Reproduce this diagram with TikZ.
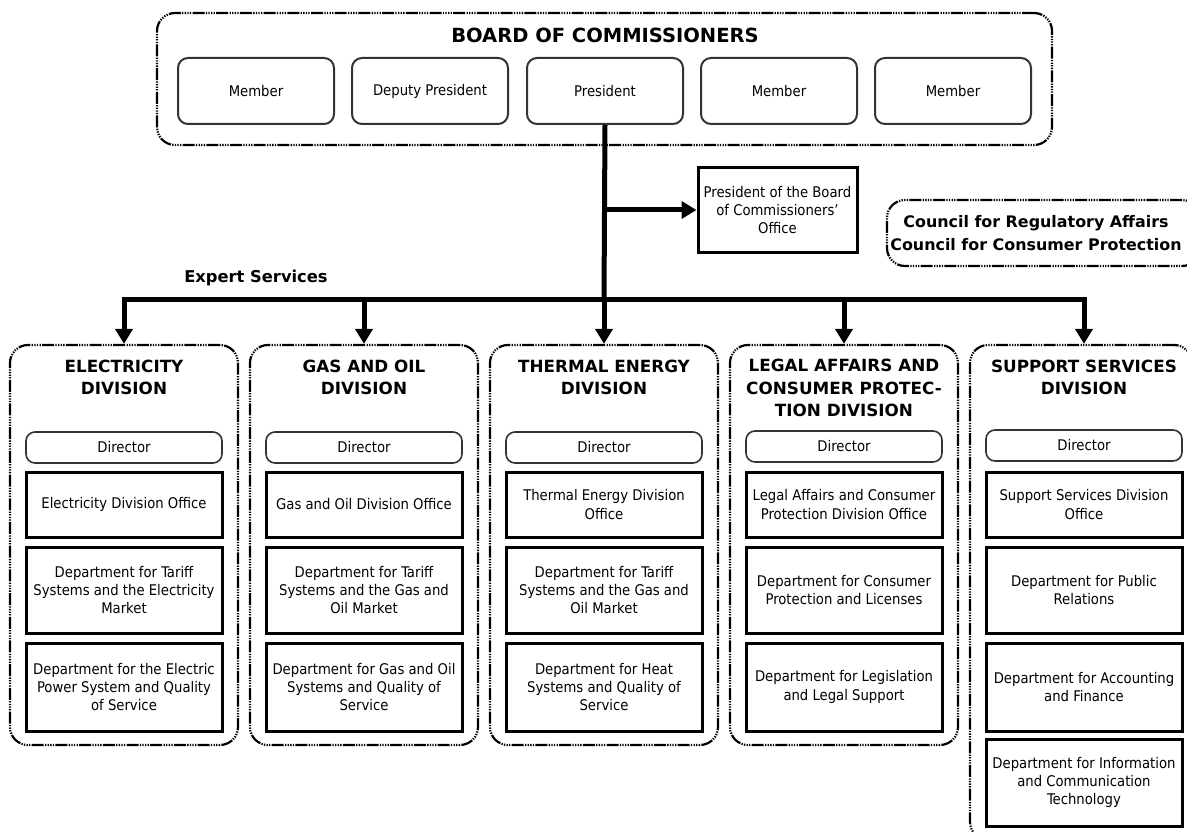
\documentclass[tikz,border=0pt]{standalone}
\usepackage{fontspec}
\setmainfont{DejaVu Sans Condensed}
\newfontfamily\hdfont{DejaVu Sans}
\usetikzlibrary{arrows.meta}
\begin{document}
\begin{tikzpicture}[x=1pt,y=-1pt,
 txt/.style={font=\fontsize{14.7}{18.3}\selectfont, align=center, text=black},
 hd/.style={font=\hdfont\bfseries\fontsize{16.8}{22.5}\selectfont, align=center, inner sep=0pt},
 hds/.style={font=\hdfont\bfseries\fontsize{16.3}{23}\selectfont, align=center, inner sep=0pt},
 grp/.style={draw, line width=2.2pt, rounded corners=18pt,
   dash pattern=on 12pt off 1.3pt on 1.3pt off 1.3pt on 1.3pt off 1.3pt on 1.3pt off 1.3pt on 1.3pt off 1.3pt, inner sep=0pt},
 member/.style={txt, draw=black!80, line width=2pt, rounded corners=10pt, minimum width=156pt, minimum height=66pt, inner sep=0pt},
 dir/.style={txt, draw=black!80, line width=1.6pt, rounded corners=9pt, minimum width=196pt, minimum height=31pt, inner sep=0pt},
 dept/.style={txt, draw, line width=3pt, minimum width=196pt, inner sep=0pt},
 conn/.style={line width=5pt},
 arr/.style={conn, -{Triangle[length=15pt,width=17pt]}}
]
\useasboundingbox (0,0) rectangle (1187,832);

% Board
\node[grp, minimum width=895pt, minimum height=132pt] (board) at (604.5,79) {};
\node[hd, font=\hdfont\bfseries\fontsize{19.5}{22}\selectfont] (boardt) at (605,35) {BOARD OF COMMISSIONERS};
\node[member] (m1) at (256,91) {Member};
\node[member] (dp) at (430,91) {Deputy President};
\node[member] (pres) at (605,91) {President};
\node[member] (m2) at (779,91) {Member};
\node[member] (m3) at (953,91) {Member};

% Office of the President
\node[dept, minimum width=159pt, minimum height=84pt] (office) at (777.5,210) {President of the Board\\of Commissioners'\\Office};

% Councils
\node[grp, minimum width=313pt, minimum height=66pt] (council) at (1043.5,233) {};
\node[hds, font=\hdfont\bfseries\fontsize{15.9}{23}\selectfont] (councilt) at (1036,233) {Council for Regulatory Affairs\\Council for Consumer Protection};

\node[hds] (expert) at (256,278) {Expert Services};

% Divisions
\node[grp, minimum width=228pt, minimum height=400pt] (div1) at (124,545) {};
\node[grp, minimum width=228pt, minimum height=400pt] (div2) at (364,545) {};
\node[grp, minimum width=228pt, minimum height=400pt] (div3) at (604,545) {};
\node[grp, minimum width=228pt, minimum height=400pt] (div4) at (844,545) {};
\node[grp, minimum width=222pt, minimum height=495pt] (div5) at (1081,592.5) {};

% connectors
\coordinate (b1) at (124,299);
\coordinate (b2) at (364,299);
\coordinate (b3) at (604,299);
\coordinate (b4) at (844,299);
\coordinate (b5) at (1084,299);
\coordinate (ob) at (605,210);
\draw[conn] (pres.south) -- (b3);
\draw[conn, line cap=rect] (b1) -- (b5);
\draw[arr] (ob) -- (office.west);
\draw[arr] (b1) -- (b1 |- div1.north);
\draw[arr] (b2) -- (b2 |- div2.north);
\draw[arr] (b3) -- (b3 |- div3.north);
\draw[arr] (b4) -- (b4 |- div4.north);
\draw[arr] (b5) -- (b5 |- div5.north);

% Division 1
\node[hd] (h1) at (124,377.5) {ELECTRICITY\\DIVISION};
\node[dir] (d1) at (124,447.5) {Director};
\node[dept, minimum height=65pt] (o1) at (124,504.5) {Electricity Division Office};
\node[dept, minimum height=86pt] (p1a) at (124,590) {Department for Tariff\\Systems and the Electricity\\Market};
\node[dept, minimum height=88pt] (p1b) at (124,687) {Department for the Electric\\Power System and Quality\\of Service};

% Division 2
\node[hd] (h2) at (364,377.5) {GAS AND OIL\\DIVISION};
\node[dir] (d2) at (364,447.5) {Director};
\node[dept, minimum height=65pt] (o2) at (364,504.5) {Gas and Oil Division Office};
\node[dept, minimum height=86pt] (p2a) at (364,590) {Department for Tariff\\Systems and the Gas and\\Oil Market};
\node[dept, minimum height=88pt] (p2b) at (364,687) {Department for Gas and Oil\\Systems and Quality of\\Service};

% Division 3
\node[hd] (h3) at (604,377.5) {THERMAL ENERGY\\DIVISION};
\node[dir] (d3) at (604,447.5) {Director};
\node[dept, minimum height=65pt] (o3) at (604,504.5) {Thermal Energy Division\\Office};
\node[dept, minimum height=86pt] (p3a) at (604,590) {Department for Tariff\\Systems and the Gas and\\Oil Market};
\node[dept, minimum height=88pt] (p3b) at (604,687) {Department for Heat\\Systems and Quality of\\Service};

% Division 4
\node[hd] (h4) at (844,388) {LEGAL AFFAIRS AND\\CONSUMER PROTEC-\\TION DIVISION};
\node[dir] (d4) at (844,446.5) {Director};
\node[dept, minimum height=65pt] (o4) at (844,504.5) {Legal Affairs and Consumer\\Protection Division Office};
\node[dept, minimum height=86pt] (p4a) at (844,590) {Department for Consumer\\Protection and Licenses};
\node[dept, minimum height=88pt] (p4b) at (844,687) {Department for Legislation\\and Legal Support};

% Division 5
\node[hd] (h5) at (1084,377.5) {SUPPORT SERVICES\\DIVISION};
\node[dir] (d5) at (1084,445.5) {Director};
\node[dept, minimum height=65pt] (o5) at (1084,504.5) {Support Services Division\\Office};
\node[dept, minimum height=86pt] (p5a) at (1084,590) {Department for Public\\Relations};
\node[dept, minimum height=88pt] (p5b) at (1084,687) {Department for Accounting\\and Finance};
\node[dept, minimum height=87pt] (p5c) at (1084,782.5) {Department for Information\\and Communication\\Technology};
\end{tikzpicture}
\end{document}
